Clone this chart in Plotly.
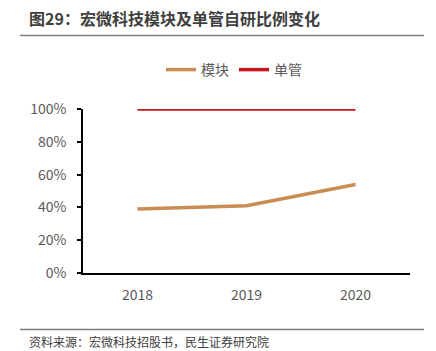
import plotly.graph_objects as go

years = ["2018", "2019", "2020"]
module_share = [0.39, 0.41, 0.54]
single_share = [1.00, 1.00, 1.00]
series_names = ["模块", "单管"]
title_text = "图29：宏微科技模块及单管自研比例变化"
source_text = "资料来源：宏微科技招股书，民生证券研究院"

FONT = "Noto Sans CJK SC"
L, R, T, B = 83, 26, 108, 78
W, H = 436, 351
pw, ph = W - L - R, H - T - B

def px(x):
    return (x - L) / pw

def py(y):
    return (H - B - y) / ph

fig = go.Figure()
fig.add_trace(go.Scatter(x=years, y=module_share, mode="lines", name=series_names[0],
                         line=dict(color="#C98C52", width=3.5)))
fig.add_trace(go.Scatter(x=years, y=single_share, mode="lines", name=series_names[1],
                         line=dict(color="#C4161C", width=3.5)))

fig.update_layout(
    width=W, height=H,
    margin=dict(l=L, r=R, t=T, b=B),
    paper_bgcolor="white", plot_bgcolor="white",
    font=dict(family=FONT, color="#595959", size=13),
    showlegend=True,
    legend=dict(orientation="h", xref="container", x=234 / W, xanchor="center",
                yref="container", y=1 - 70 / H, yanchor="middle",
                font=dict(size=14, color="#595959"), itemwidth=30,
                tracegroupgap=0),
    xaxis=dict(type="category", range=[-0.5, 2.5], showgrid=False,
               showline=True, linecolor="black", linewidth=1.5,
               ticks="", tickfont=dict(size=14, color="#595959"),
               ticklabelstandoff=8, fixedrange=True),
    yaxis=dict(range=[0, 1], tickformat=".0%", dtick=0.2, showgrid=False,
               showline=True, linecolor="black", linewidth=1.5,
               ticks="outside", ticklen=4, tickcolor="black", tickwidth=1.5,
               tickfont=dict(size=14, color="#595959"), ticklabelstandoff=8,
               zeroline=False),
    shapes=[
        dict(type="line", xref="paper", yref="paper", x0=px(20), x1=px(424),
             y0=py(34), y1=py(34), line=dict(color="#7F7F7F", width=1.5)),
        dict(type="line", xref="paper", yref="paper", x0=px(20), x1=px(424),
             y0=py(330), y1=py(330), line=dict(color="#7F7F7F", width=1.5)),
    ],
    annotations=[
        dict(text="<b>" + title_text + "</b>", xref="paper", yref="paper",
             x=px(27), y=py(16), xanchor="left", yanchor="middle", showarrow=False,
             font=dict(size=16, color="#404040", family=FONT)),
        dict(text=source_text, xref="paper", yref="paper",
             x=px(27), y=py(342), xanchor="left", yanchor="middle", showarrow=False,
             font=dict(size=12, color="#404040", family=FONT)),
    ],
)

fig.write_html("out.html")
